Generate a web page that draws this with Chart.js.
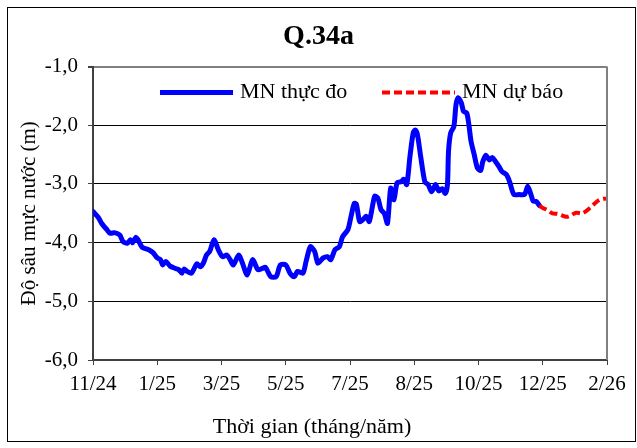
<!DOCTYPE html>
<html>
<head>
<meta charset="utf-8">
<script src="https://cdn.jsdelivr.net/npm/chart.js@4.4.0/dist/chart.umd.min.js"></script>
<style>
  html, body { margin: 0; padding: 0; background: #fff; }
  canvas { display: block; }
</style>
</head>
<body>
<canvas id="waterChart" width="637" height="448"></canvas>
<script>
const xTickLabels = ['11/24', '1/25', '3/25', '5/25', '7/25', '8/25', '10/25', '12/25', '2/26'];

// x = days from the 11/24 tick, one tick every 60 days
const measuredDays = [0, 5, 8, 13, 16, 20, 25, 28, 32, 35, 37, 40, 42, 46, 52, 56, 60, 63, 65, 68,
  72, 77, 80, 83, 85, 88, 92, 97, 100, 103, 106, 109, 113, 117, 121, 125, 128, 131, 136, 139,
  144, 149, 154, 158, 161, 166, 171, 175, 180, 184, 188, 191, 196, 199, 203, 207, 210, 215, 219, 222,
  226, 230, 233, 238, 241, 244, 246, 249, 252, 255, 258, 263, 266, 269, 272, 275, 278, 281, 284, 288,
  290, 293, 296, 299, 301, 303, 306, 310, 313, 316, 318, 320, 323, 326, 329, 331, 332, 334, 337, 339,
  341, 344, 346, 349, 351, 353, 356, 359, 362, 364, 367, 370, 373, 376, 379, 382, 386, 389, 393, 398,
  403, 406, 409, 411, 414, 417];
const measuredDepth = [-3.47, -3.57, -3.67, -3.78, -3.84, -3.83, -3.87, -3.98, -4.01, -3.95, -4.00, -3.91, -3.95, -4.08, -4.12, -4.17, -4.26, -4.29, -4.38, -4.32,
  -4.40, -4.44, -4.46, -4.52, -4.45, -4.49, -4.52, -4.36, -4.41, -4.35, -4.21, -4.15, -3.95, -4.12, -4.24, -4.21, -4.29, -4.38, -4.21, -4.32,
  -4.55, -4.29, -4.46, -4.44, -4.42, -4.58, -4.58, -4.38, -4.38, -4.52, -4.58, -4.49, -4.52, -4.32, -4.07, -4.15, -4.35, -4.26, -4.24, -4.29,
  -4.12, -4.07, -3.90, -3.78, -3.55, -3.33, -3.35, -3.64, -3.61, -3.55, -3.64, -3.21, -3.24, -3.44, -3.50, -3.67, -3.07, -3.27, -2.98, -2.96,
  -2.92, -3.01, -2.53, -2.13, -2.08, -2.16, -2.53, -2.97, -3.01, -3.13, -3.08, -3.01, -3.12, -3.08, -3.16, -3.01, -2.44, -2.13, -2.02, -1.65,
  -1.53, -1.62, -1.76, -1.79, -1.99, -2.27, -2.50, -2.73, -2.77, -2.62, -2.51, -2.59, -2.55, -2.62, -2.70, -2.79, -2.84, -2.96, -3.18, -3.18,
  -3.18, -3.04, -3.18, -3.29, -3.30, -3.37];

const forecastDays = [417, 420, 424, 429, 434, 440, 443, 446, 451, 457, 464, 468, 473, 478, 481];
const forecastDepth = [-3.37, -3.41, -3.44, -3.50, -3.51, -3.55, -3.56, -3.54, -3.49, -3.50, -3.41, -3.34, -3.27, -3.25, -3.26];

const seriesNames = ['MN thực đo', 'MN dự báo'];

const toPoints = (xs, ys) => xs.map((x, i) => ({ x: x, y: ys[i] }));

Chart.defaults.font.family = '"Liberation Serif", "Times New Roman", serif';
Chart.defaults.color = '#000';

const frame = {
  id: 'frame',
  beforeDraw(chart) {
    const ctx = chart.ctx;
    ctx.save();
    ctx.fillStyle = '#fff';
    ctx.fillRect(0, 0, chart.width, chart.height);
    ctx.restore();
  },
  afterDraw(chart) {
    const ctx = chart.ctx;
    const a = chart.chartArea;
    ctx.save();
    // outer border
    ctx.strokeStyle = '#000';
    ctx.lineWidth = 1;
    ctx.strokeRect(7.5, 7.5, 628, 434);
    // right edge of plot
    ctx.strokeStyle = '#808080';
    ctx.lineWidth = 2;
    ctx.beginPath();
    ctx.moveTo(Math.round(a.right), a.top);
    ctx.lineTo(Math.round(a.right), a.bottom);
    ctx.stroke();

    // legend inside plot
    ctx.font = '22px "Liberation Serif"';
    ctx.textBaseline = 'middle';
    ctx.fillStyle = '#000';
    const ly = a.top + 26;
    const spots = [[67, 140, 147], [289, 362, 369]];
    chart.data.datasets.forEach((ds, i) => {
      const s = spots[i];
      ctx.strokeStyle = ds.borderColor;
      ctx.lineWidth = ds.borderWidth;
      ctx.setLineDash(ds.borderDash || []);
      ctx.beginPath();
      ctx.moveTo(a.left + s[0], ly);
      ctx.lineTo(a.left + s[1], ly);
      ctx.stroke();
      ctx.setLineDash([]);
      ctx.fillText(ds.label, a.left + s[2], ly);
    });

    // x axis title
    ctx.textAlign = 'center';
    ctx.fillText('Thời gian (tháng/năm)', 312, 427);
    ctx.restore();
  }
};

const waterCtx = document.getElementById('waterChart').getContext('2d');

const waterChart = new Chart(waterCtx, {
  type: 'line',
  data: {
    datasets: [
      {
        label: seriesNames[0],
        data: toPoints(measuredDays, measuredDepth),
        borderColor: '#0000ff',
        borderWidth: 5,
        borderJoinStyle: 'round',
        borderCapStyle: 'round',
        pointRadius: 0,
        tension: 0.25,
        order: 2
      },
      {
        label: seriesNames[1],
        data: toPoints(forecastDays, forecastDepth),
        borderColor: '#ff0000',
        borderWidth: 4,
        borderDash: [8, 4],
        pointRadius: 0,
        tension: 0.3,
        order: 1
      }
    ]
  },
  options: {
    responsive: false,
    animation: false,
    layout: { padding: 0 },
    plugins: {
      legend: { display: false },
      tooltip: { enabled: false },
      title: {
        display: true,
        text: 'Q.34a',
        font: { size: 28, weight: 'bold' },
        padding: { top: 20, bottom: 13 }
      }
    },
    scales: {
      x: {
        type: 'linear',
        min: 0,
        max: 480,
        ticks: {
          stepSize: 60,
          autoSkip: false,
          maxRotation: 0,
          padding: 7,
          font: { size: 21 },
          callback: (v, i) => xTickLabels[i]
        },
        grid: { drawOnChartArea: false, tickLength: 5, tickColor: '#404040' },
        border: { color: '#404040', width: 2 },
        afterFit(scale) { scale.height = 88; }
      },
      y: {
        min: -6,
        max: -1,
        ticks: {
          stepSize: 1,
          padding: 10,
          font: { size: 21 },
          callback: v => v.toFixed(1).replace('.', ',')
        },
        grid: {
          color: c => (c.tick && c.tick.value === -1 ? '#808080' : '#000'),
          lineWidth: c => (c.tick && c.tick.value === -1 ? 2 : 1),
          tickLength: 5,
          tickColor: '#404040'
        },
        border: { color: '#404040', width: 2 },
        title: {
          display: true,
          text: 'Độ sâu mực nước (m)',
          font: { size: 21 },
          padding: { top: 17, bottom: 0 }
        },
        afterFit(scale) { scale.width = 93; }
      },
      yRight: {
        position: 'right',
        display: true,
        ticks: { display: false },
        grid: { display: false },
        border: { display: false },
        afterFit(scale) { scale.width = 30; }
      }
    }
  },
  plugins: [frame]
});
</script>
</body>
</html>
